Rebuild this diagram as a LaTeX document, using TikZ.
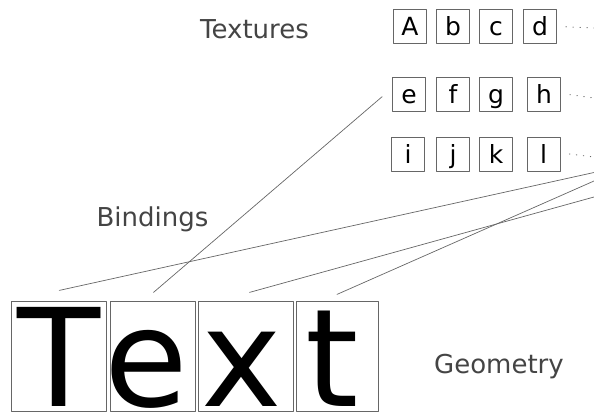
\documentclass[tikz,border=0pt]{standalone}
\usepackage{fontspec}
\setmainfont{DejaVu Sans}
\definecolor{ink}{HTML}{444444}
\definecolor{rule}{HTML}{666666}
% letter pulled left inside its box
\newcommand\pullleft[2]{\kern-#1\relax#2\kern#1\relax}
\begin{document}
\begin{tikzpicture}[x=1pt,y=-1pt,line join=round,line cap=round]
	\tikzset{texbox/.style={draw=rule,line width=0.8pt,inner sep=0pt,minimum width=33pt,text height=26pt,text depth=8pt,font=\fontsize{25}{25}\selectfont},
		geobox/.style={draw=rule,line width=0.8pt,inner sep=0pt,text height=105pt,text depth=5pt,font=\fontsize{136}{136}\selectfont},
		caption/.style={anchor=base,text=ink,font=\fontsize{26}{26}\selectfont},
		bind/.style={draw=rule,line width=0.7pt},
		more/.style={draw=rule,line width=0.9pt,dash pattern=on 0.5pt off 6.5pt}}
	\useasboundingbox (0,0) rectangle (594,412);
	\node[caption] (lbl-tex) at (254.5,39) {Textures};
	\node[caption] (lbl-bind) at (152.5,226) {Bindings};
	\node[caption] (lbl-geo) at (499,373) {Geometry};
	\foreach \l/\x in {A/410,b/453,c/496,d/540}
	\node[texbox] (tex-\l) at (\x,26.8) {\l};
	\foreach \l/\x in {e/409,f/453,g/496,h/544}
	\node[texbox] (tex-\l) at (\x,94.7) {\l};
	\foreach \l/\x in {i/408,j/453,k/496,l/543.5}
	\node[texbox] (tex-\l) at (\x,154) {\l};
	\foreach \l/\y in {d/28,h/98,l/157}{
		\coordinate (more-\l) at (594,\y);
		\draw[more] ([xshift=9pt]tex-\l.east) -- (more-\l);
	}
	\node[geobox,minimum width=95pt] (geo-T) at (59.3,356.8) {T};
	\node[geobox,minimum width=85pt] (geo-e) at (152.5,356.8) {\pullleft{6pt}{e}};
	\node[geobox,minimum width=95pt] (geo-x) at (245.5,356.8) {\pullleft{4pt}{x}};
	\node[geobox,minimum width=82pt] (geo-t) at (337,356.8) {\pullleft{5pt}{t}};
	\coordinate (edge-T) at (594,172.5);
	\coordinate (edge-t) at (594,181);
	\coordinate (edge-x) at (594,197);
	\draw[bind] (edge-T) -- ([yshift=11pt]geo-T.north);
	\draw[bind] ([xshift=-10pt,yshift=-2pt]tex-e.west) -- ([xshift=1pt,yshift=9pt]geo-e.north);
	\draw[bind] (edge-x) -- ([xshift=4pt,yshift=9pt]geo-x.north);
	\draw[bind] (edge-t) -- ([yshift=7pt]geo-t.north);
\end{tikzpicture}
\end{document}
